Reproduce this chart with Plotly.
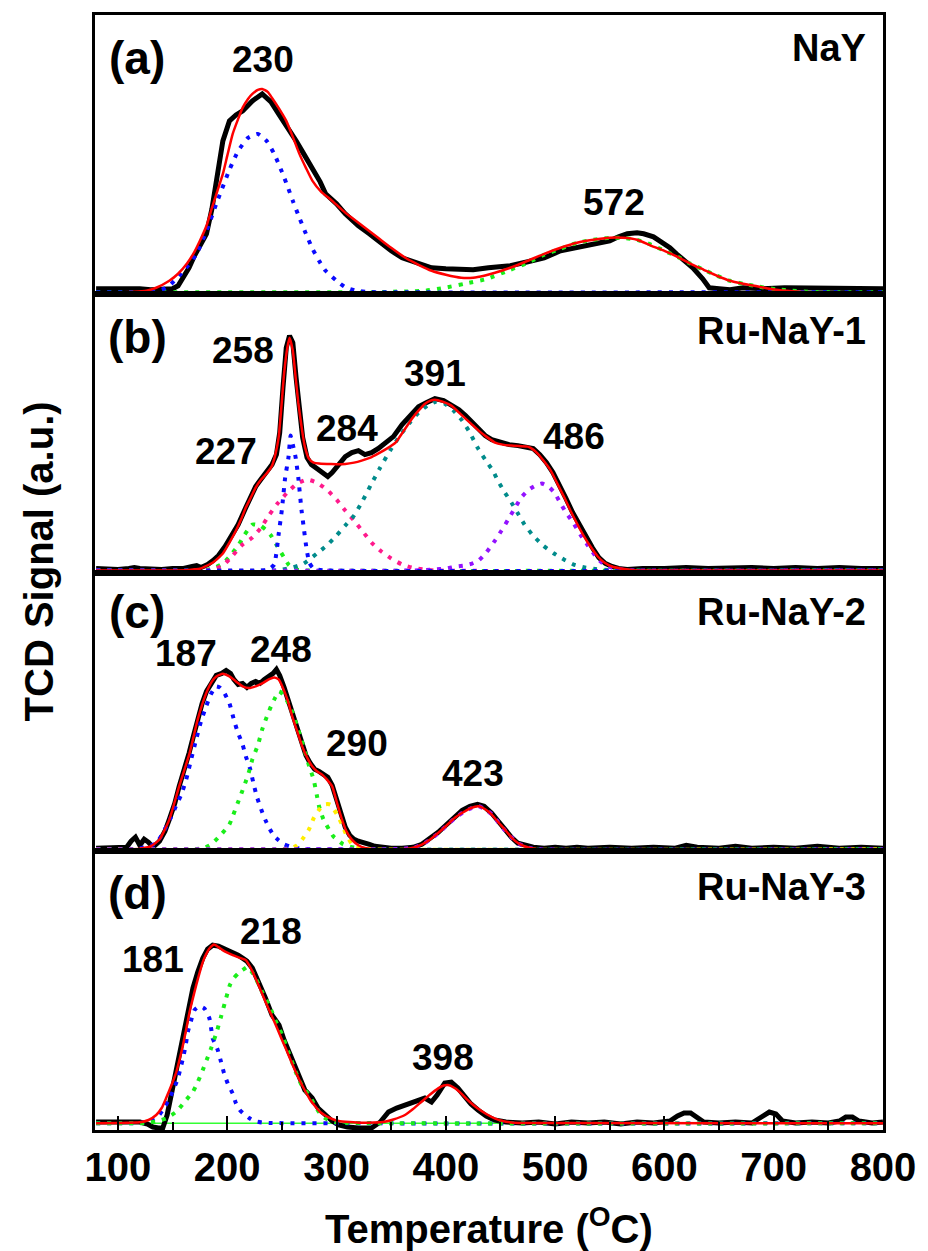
import plotly.graph_objects as go
from plotly.subplots import make_subplots

# ---------------- data (temperature in degC, signal in arbitrary units) ----------------
# Panel (a) NaY
a_black_x = [80, 90, 100, 110, 120, 130, 140, 150, 155, 160, 165, 170, 175, 181, 186, 190, 196, 202, 208, 214, 223, 232, 240, 247, 255, 263, 270, 278, 285, 290, 300, 308, 320, 330, 338, 350, 360, 369, 380, 387, 400, 414, 425, 439, 450, 459, 475, 490, 505, 520, 535, 550, 558, 566, 575, 581, 590, 596, 605, 611, 620, 626, 635, 641, 650, 660, 672, 690, 710, 732, 750, 770, 793, 800]
a_black_y = [5, 5, 6, 5, 5, 4, 4, 5, 8, 16, 26, 38, 48, 60, 85, 110, 153, 173, 179, 183, 193, 200, 192, 180, 167, 153, 140, 126, 112, 100, 90, 80, 68, 60, 53, 43, 36, 33, 29, 26, 25, 24, 24, 26, 27, 28, 32, 36, 43, 46, 49, 53, 57, 60, 61, 60, 57, 53, 46, 40, 31, 26, 15, 6, 5, 4, 6, 5, 6, 6, 5, 6, 5, 5]
a_fit_x = [80, 100, 115, 126, 135, 147, 155, 163, 170, 175, 181, 186, 191, 196, 200, 205, 210, 214, 219, 223, 228, 232, 237, 241, 247, 254, 260, 266, 272, 278, 286, 296, 305, 314, 326, 338, 350, 363, 375, 387, 400, 414, 425, 435, 445, 459, 475, 490, 505, 520, 535, 550, 562, 575, 588, 600, 612, 624, 636, 648, 660, 672, 687, 702, 717, 732, 760, 800]
a_fit_y = [1.3, 1.5, 2, 3, 6, 13, 20, 30, 42, 53, 68, 86, 103, 120, 138, 160, 175, 186, 195, 200, 204, 205, 202, 196, 186, 173, 157, 140, 126, 113, 102, 93, 84, 76, 66, 56, 46, 36, 29, 23, 19, 16, 16, 18, 21, 26, 33, 40, 46, 51, 54, 56, 56, 54, 48, 43, 37, 30, 24, 18, 13, 10, 7, 4, 2.5, 1.5, 1.3, 1.3]
a_p1_x = [80, 120, 130, 140, 147, 156, 164, 172, 181, 191, 202, 210, 219, 228, 236, 243, 250, 255, 260, 266, 272, 278, 284, 290, 300, 308, 318, 330, 340, 800]
a_p1_y = [1.5, 1.5, 2, 4, 8, 18, 28, 40, 63, 93, 124, 143, 156, 160, 153, 140, 122, 108, 93, 76, 60, 45, 33, 23, 13, 6.5, 3, 1.8, 1.5, 1.5]
a_p2_x = [80, 330, 350, 370, 381, 399, 417, 438, 459, 475, 490, 505, 520, 535, 550, 562, 575, 588, 600, 612, 624, 636, 648, 660, 672, 687, 702, 717, 732, 760, 800]
a_p2_y = [1.5, 1.5, 2, 2.5, 3, 6, 10, 15, 24, 31, 39, 45, 51, 54, 56, 56, 54, 49, 43, 37, 30, 24, 18, 13, 10, 7, 4.5, 3, 2, 1.5, 1.5]

# Panel (b) Ru-NaY-1
b_black_x = [80, 90, 100, 110, 115, 120, 130, 140, 150, 160, 168, 172, 176, 182, 187, 192, 198, 204, 210, 217, 222, 226, 230, 236, 241, 245, 248, 251, 254, 257, 260, 263, 266, 269, 273, 277, 282, 287, 292, 296, 302, 308, 314, 320, 326, 332, 338, 345, 352, 360, 368, 375, 382, 390, 398, 405, 412, 418, 424, 430, 436, 442, 450, 458, 466, 474, 480, 486, 492, 498, 504, 510, 516, 522, 528, 534, 540, 546, 552, 558, 566, 580, 600, 620, 640, 660, 680, 700, 720, 740, 760, 780, 800]
b_black_y = [4, 3, 3, 4, 5, 4, 3, 3, 4, 4, 6, 7, 5, 8, 12, 17, 26, 36, 48, 65, 78, 86, 92, 100, 108, 118, 140, 185, 225, 237, 230, 195, 160, 135, 115, 108, 104, 100, 96, 100, 108, 116, 120, 122, 118, 120, 124, 130, 136, 148, 158, 166, 170, 174, 172, 168, 163, 157, 150, 143, 137, 133, 130, 128, 127, 126, 124, 118, 110, 100, 88, 74, 60, 48, 36, 25, 15, 9, 6, 4, 3, 4, 4, 5, 4, 5, 5, 4, 5, 4, 5, 4, 4]
b_fit_x = [80, 100, 150, 165, 175, 187, 196, 202, 208, 213, 217, 222, 226, 231, 236, 241, 244, 247, 250, 252, 255, 257, 260, 262.6, 265, 268.5, 271, 274.7, 279, 284, 295, 308, 316, 323, 331, 338, 346, 354, 361, 369, 375, 381, 386, 390, 397, 405, 414, 423, 430, 437, 445, 452, 460, 467, 475, 480, 484, 490, 496, 502, 508, 514, 520, 526, 533, 539, 545, 552, 560, 570, 580, 800]
b_fit_y = [2, 2, 2, 2.5, 3.7, 10, 19, 30, 42, 54, 65, 76, 85, 93, 99, 107, 118, 135, 172, 199, 225, 235, 222, 195, 170, 142, 126, 114, 110, 109, 108.5, 108.7, 110, 112, 115, 119, 124, 130, 141, 154, 162, 169, 172, 173, 171, 167, 158, 149, 142, 136, 130, 128, 127, 126.5, 126, 123, 119, 111, 102, 89, 76, 62, 49, 37, 25, 16, 10, 6, 4, 2.5, 2, 2]
b_p1_x = [80, 175, 185, 196, 203, 210, 216, 223, 230, 235, 240, 246, 252, 256, 260, 265, 270, 800]
b_p1_y = [2, 2, 3.5, 9, 17, 27, 38, 48, 47, 43, 37, 26, 15, 8, 4, 2.5, 2, 2]
b_p2_x = [80, 230, 238, 243, 247, 250, 253, 256, 258, 260, 262.6, 265, 268, 270, 272, 275, 278, 282, 290, 800]
b_p2_y = [2, 2, 3, 8, 38, 63, 95, 115, 137, 128, 115, 95, 62, 45, 28, 10, 5, 3, 2, 2]
b_p3_x = [80, 180, 188, 196, 205, 214, 223, 231, 238, 246, 255, 264, 273, 282, 291, 300, 308, 316, 324, 332, 341, 350, 360, 369, 380, 390, 800]
b_p3_y = [2, 2, 3.5, 7, 17, 28, 35, 45, 57, 69, 80, 89, 93, 90, 83, 73, 62, 52, 41, 30, 21, 14, 8, 5, 3, 2, 2]
b_p4_x = [80, 240, 250, 260, 270, 282, 291, 300, 308, 316, 324, 332, 340, 349, 358, 367, 375, 383, 391, 399, 407, 415, 422, 429, 436, 443, 448, 454, 460, 466, 472, 479, 489, 499, 508, 517, 527, 537, 550, 560, 800]
b_p4_y = [2, 2, 3, 5, 9, 19, 27, 37, 47, 57, 72, 89, 105, 122, 137, 150, 160, 167, 171, 169, 162, 152, 140, 125, 113, 102, 91, 80, 70, 59, 48, 38, 27, 19, 13, 8, 5, 3.5, 2.5, 2, 2]
b_p5_x = [80, 370, 390, 400, 410, 417, 424, 430, 437, 445, 451, 457, 463, 469, 476, 482, 488, 495, 500, 504, 510, 517, 523, 530, 538, 546, 555, 565, 575, 800]
b_p5_y = [2, 2, 3, 4, 6, 7, 9, 12, 20, 32, 42, 53, 64, 75, 83, 87, 89, 85, 79, 71, 60, 49, 38, 27, 15, 7, 4, 2.5, 2, 2]

# Panel (c) Ru-NaY-2
c_black_x = [80, 90, 100, 108, 112, 116, 120, 124, 128, 132, 138, 143, 147, 152, 156, 161, 165, 169, 173, 177, 181, 186, 190, 195, 199, 203, 206, 210, 214, 218, 222, 226, 230, 234, 238, 242, 245, 248, 252, 256, 260, 264, 268, 272, 276, 280, 284, 288, 292, 296, 300, 304, 308, 312, 316, 320, 325, 330, 335, 340, 350, 360, 370, 378, 385, 393, 400, 408, 415, 422, 429, 435, 442, 448, 454, 460, 466, 472, 480, 490, 500, 510, 520, 530, 550, 570, 590, 610, 620, 630, 650, 665, 680, 700, 720, 740, 760, 780, 800]
c_black_y = [3, 3, 3, 4, 10, 14, 6, 12, 9, 4, 10, 20, 32, 48, 65, 82, 98, 115, 132, 148, 160, 170, 176, 178, 181, 178, 172, 167, 168, 164, 168, 170, 168, 172, 175, 178, 182, 176, 164, 150, 135, 120, 106, 96, 88, 82, 80, 77, 74, 66, 52, 36, 24, 16, 12, 10, 9, 7, 5, 4, 3, 3, 4, 7, 12, 19, 26, 34, 41, 45, 47, 45, 38, 30, 22, 14, 8, 6, 4, 3, 4, 3, 4, 3, 4, 3, 4, 3, 6, 4, 3, 5, 3, 4, 3, 5, 3, 4, 3]
c_fit_x = [80, 110, 120, 130, 138, 147, 156, 165.5, 173, 180.7, 186, 190, 196, 202, 208, 214, 220, 226, 232, 238, 243, 247, 250.4, 255, 259.5, 264, 268.6, 273, 277.7, 282, 286.8, 291, 296, 300, 305, 309, 314, 320, 326, 335, 360, 370, 378, 386, 393, 400, 408, 416, 423, 430, 436, 442, 448, 454, 460, 466, 472, 478, 484, 800]
c_fit_y = [2, 2, 2.5, 5, 11.7, 31.7, 65, 98, 132, 158, 170, 175, 177.7, 175, 170, 165, 163.3, 165, 168, 172, 174, 172, 165, 152, 135, 120, 105, 94, 85, 80, 76.7, 72, 65, 50, 31.7, 20, 11.7, 6, 3.3, 2, 2, 3.5, 6.7, 12, 18.3, 25, 33.3, 39, 43.3, 45, 42, 36.7, 29, 21.7, 14, 8.3, 5, 3, 2, 2]
c_p1_x = [80, 110, 120, 128, 135, 142, 148, 153, 158, 162.5, 167, 171.6, 176, 180.7, 185, 189.8, 193, 196.5, 202, 206.5, 210, 214, 217, 220.8, 224, 227, 231, 235, 239, 243, 247, 252, 257, 265, 275, 800]
c_p1_y = [2, 2, 3, 5, 8, 20, 33, 45, 57, 72, 92, 112, 130, 145, 157, 165, 164, 160, 148, 130, 118, 107, 95, 83, 68, 55, 42, 31, 22, 15, 11, 7, 5, 3, 2, 2]
c_p2_x = [80, 170, 178, 185, 193, 201.9, 205, 209.5, 213, 217, 220, 223, 228, 232, 236, 240, 244, 247.4, 251, 255, 260, 264, 268, 271.6, 275, 279, 282, 284, 288, 293, 297, 300.5, 306, 311, 320, 330, 800]
c_p2_y = [2, 2, 3, 6.7, 15, 26.7, 35, 48, 58, 70, 80, 92, 106, 122, 134, 145, 154, 160, 157, 150, 138, 125, 111, 98, 85, 72, 56, 45, 32, 22, 15, 11.7, 7, 5, 3, 2, 2]
c_p3_x = [80, 250, 258, 264, 268.6, 274.7, 279.2, 285.3, 290, 294.4, 300.5, 305, 309.6, 315.7, 322, 330, 800]
c_p3_y = [2, 2, 3, 6, 11.7, 21.7, 33.3, 43.3, 47, 46.7, 36.7, 26.7, 15, 5, 3, 2, 2]
c_p4_x = [80, 340, 360, 370, 378, 386, 393, 400, 408, 416, 423, 430, 436, 442, 448, 454, 460, 466, 472, 478, 484, 800]
c_p4_y = [2, 2, 2.5, 3.5, 6.5, 12, 18, 25, 33, 39, 43, 45, 42, 37, 29, 21, 14, 8, 5, 3, 2, 2]

# Panel (d) Ru-NaY-3
d_black_x = [80, 90, 100, 110, 120, 127, 132, 137, 141, 145, 150.3, 155, 159.5, 164, 168.6, 173, 177.6, 182, 186.7, 192, 198.8, 205, 210, 214, 218, 223, 229, 235, 241, 247.4, 252, 256.5, 261, 265.6, 271, 277.7, 283, 290, 296, 302, 310, 320, 332, 340, 347.5, 355, 362.6, 370, 376, 380.8, 386.9, 392, 399, 405, 411, 417, 423, 429.4, 437, 444.6, 455, 470, 485, 500, 515, 530, 545, 560, 575, 590, 605, 612, 618, 624, 630, 636, 650, 665, 680, 690, 696, 702, 708, 720, 735, 750, 760, 766, 772, 778, 790, 800]
d_black_y = [8, 8, 9, 8, 8, 6, 3, 2, 2, 15, 45, 70, 95, 120, 142, 158, 172, 181, 185, 184, 181, 178, 175, 172, 169, 162, 148, 132, 115, 105, 90, 78, 65, 52, 40, 32, 22, 15, 9, 5, 3, 2, 2, 8, 18, 22, 25, 28, 31, 32, 28, 35, 47, 48, 42, 33, 26, 20, 14, 10, 8, 7, 8, 6, 8, 7, 8, 6, 8, 7, 9, 14, 17, 17, 13, 8, 7, 8, 7, 14, 18, 16, 9, 7, 8, 7, 9, 13, 13, 9, 7, 8]
d_fit_x = [80, 100, 120, 128, 135, 140, 144, 149, 153.4, 156.5, 159.5, 162.5, 165.5, 168.6, 171.6, 174.6, 177.6, 180.7, 183.7, 188, 192, 195.8, 200, 205, 211, 217, 221, 226, 230.6, 235, 240, 244.4, 249, 253.5, 258, 262.6, 267, 271.7, 276, 280.8, 285, 290, 296, 302, 312, 323, 334, 344, 352, 362.6, 370, 377.8, 385, 393, 398, 402, 408, 414, 421, 429, 437, 444.6, 452, 460, 470, 800]
d_fit_y = [6.7, 7, 7.7, 10, 15, 22, 31.7, 45, 58, 71, 85, 101, 118, 132, 145, 157, 168, 176, 181.7, 185.7, 183, 180, 177.5, 175, 172.5, 170, 163, 151.7, 140, 128.3, 116, 105, 93, 81.7, 70, 58.3, 48, 38.3, 30, 23.3, 18, 14.3, 11, 9, 8, 7.3, 7.5, 8.3, 10.5, 15, 21, 28.3, 35, 41.7, 44.5, 45, 42, 36.7, 29, 21.7, 16, 11.7, 9, 7.5, 7, 6.7]
d_p1_x = [80, 120, 128, 135.2, 141, 147.3, 151, 154.9, 157, 159.5, 162, 164, 167, 170, 174.5, 179.1, 181.5, 183.7, 185.5, 186.7, 189, 191.3, 194.3, 197, 200.4, 204.9, 208, 211.5, 215.6, 220, 224.7, 232, 240, 800]
d_p1_y = [6.7, 7, 9, 11.7, 20, 31.7, 41, 51.7, 61, 71.7, 85, 98.3, 110, 120, 124, 121.7, 117, 111.7, 100, 91.7, 86, 80, 68.3, 57, 46.7, 36.7, 26.7, 20, 15.7, 12, 9, 7.5, 7, 6.7]
d_p2_x = [80, 125, 135, 144.3, 153.4, 161, 168.6, 173, 177.6, 181.5, 185.2, 190, 194.3, 198, 202.4, 206, 210, 214, 218.6, 222, 226.1, 232, 238.3, 244, 250.4, 256, 262.6, 268, 274.7, 280, 284, 289.9, 295, 299, 310, 800]
d_p2_y = [6.7, 7, 8.5, 11.7, 18.3, 28.3, 38.3, 48, 60, 71, 81.7, 97, 113.3, 128, 145, 152, 156.7, 160, 163.3, 159, 151.7, 138, 125, 110, 95, 78, 58.3, 45, 35, 25, 18, 11.7, 9, 7.7, 7, 6.7]
d_base_x = [80, 800]
d_base_y = [6.7, 6.7]

x_tick_values = [100, 200, 300, 400, 500, 600, 700, 800]
panel_letters = ["(a)", "(b)", "(c)", "(d)"]
sample_names = ["NaY", "Ru-NaY-1", "Ru-NaY-2", "Ru-NaY-3"]
peak_labels = [
    [("230", 232.8, 234), ("572", 554, 91)],
    [("258", 214.6, 222), ("227", 199.2, 121), ("284", 309.3, 144), ("391", 390.3, 199), ("486", 517.7, 136)],
    [("187", 161.9, 198), ("248", 249.2, 202), ("290", 318.4, 108), ("423", 424.8, 78)],
    [("181", 131.8, 171), ("218", 240.1, 199), ("398", 397.5, 73)],
]

# ---------------- figure ----------------
FONT = "Liberation Sans, Arial, sans-serif"
BLUE = "#0a0aff"
GREEN = "#1aee1a"
PINK = "#ff1a8c"
TEAL = "#008b8b"
PURPLE = "#9312ff"
YELLOW = "#ffee00"
RED = "#ff0000"
DOT = "4px,7px"

fig = make_subplots(rows=4, cols=1, shared_xaxes=True, vertical_spacing=0)


def add(row, x, y, color, width, dash=None, spline=True):
    fig.add_trace(
        go.Scatter(
            x=x, y=y, mode="lines",
            line=dict(color=color, width=width, dash=dash,
                      shape="spline" if spline else "linear", smoothing=0.5),
            hoverinfo="skip", showlegend=False,
        ),
        row=row, col=1,
    )


# (a)
add(1, a_black_x, a_black_y, "black", 5, spline=False)
add(1, a_p2_x, a_p2_y, GREEN, 4, DOT)
add(1, a_p1_x, a_p1_y, BLUE, 4, DOT)
add(1, a_fit_x, a_fit_y, RED, 2.5)
# (b)
add(2, b_black_x, b_black_y, "black", 5, spline=False)
add(2, b_p1_x, b_p1_y, GREEN, 4, DOT)
add(2, b_p3_x, b_p3_y, PINK, 4, DOT)
add(2, b_p4_x, b_p4_y, TEAL, 4, DOT)
add(2, b_p5_x, b_p5_y, PURPLE, 4, DOT)
add(2, b_p2_x, b_p2_y, BLUE, 4, DOT)
add(2, b_fit_x, b_fit_y, RED, 2.5)
# (c)
add(3, c_black_x, c_black_y, "black", 5, spline=False)
add(3, c_p1_x, c_p1_y, BLUE, 4, DOT)
add(3, c_p2_x, c_p2_y, GREEN, 4, DOT)
add(3, c_p3_x, c_p3_y, YELLOW, 4, DOT)
add(3, c_p4_x, c_p4_y, PURPLE, 4, DOT)
add(3, c_fit_x, c_fit_y, RED, 2.5)
# (d)
add(4, d_base_x, d_base_y, "#33ff33", 1.5, spline=False)
add(4, d_black_x, d_black_y, "black", 5, spline=False)
add(4, d_p1_x, d_p1_y, BLUE, 4, DOT)
add(4, d_p2_x, d_p2_y, GREEN, 4, DOT)
add(4, d_fit_x, d_fit_y, RED, 2.5)

# axes
for r in range(1, 5):
    fig.update_yaxes(range=[0, 279], showticklabels=False, ticks="", showgrid=False,
                     zeroline=False, showline=True, mirror=True, linecolor="black",
                     linewidth=3, row=r, col=1)
    fig.update_xaxes(range=[79, 800], showgrid=False, zeroline=False, showline=True,
                     mirror=True, linecolor="black", linewidth=3, row=r, col=1,
                     ticks="" if r < 4 else "inside")

fig.update_xaxes(row=4, col=1, tickvals=x_tick_values, ticklen=14, tickwidth=2,
                 tickcolor="black",
                 minor=dict(ticks="inside", ticklen=8, tickwidth=2, tickcolor="black", dtick=50, tick0=0),
                 tickfont=dict(family=FONT, size=40, color="black", weight="bold"),
                 ticklabelstandoff=0)

annotations = []
for i in range(4):
    r = i + 1
    xr = "x" if r == 1 else f"x{r}"
    yr = "y" if r == 1 else f"y{r}"
    letter_y = [0.846, 0.846, 0.86, 0.85][i]
    name_y = [0.882, 0.867, 0.86, 0.871][i]
    annotations.append(dict(text=panel_letters[i], xref=f"{xr} domain", yref=f"{yr} domain",
                            x=0.0536, y=letter_y, xanchor="center", yanchor="middle",
                            showarrow=False,
                            font=dict(family=FONT, size=46, color="black", weight="bold")))
    annotations.append(dict(text=sample_names[i], xref=f"{xr} domain", yref=f"{yr} domain",
                            x=0.981, y=name_y, xanchor="right", yanchor="middle",
                            showarrow=False,
                            font=dict(family=FONT, size=38, color="black", weight="bold")))
    for (txt, px, py) in peak_labels[i]:
        annotations.append(dict(text=txt, xref=xr, yref=yr, x=px, y=py,
                                xanchor="center", yanchor="middle", showarrow=False,
                                font=dict(family=FONT, size=37, color="black", weight="bold")))

annotations.append(dict(text="TCD Signal (a.u.)", xref="paper", yref="paper",
                        x=-0.071, y=0.51, xanchor="center", yanchor="middle",
                        textangle=-90, showarrow=False,
                        font=dict(family=FONT, size=40, color="black", weight="bold")))
annotations.append(dict(text="Temperature (<sup>O</sup>C)", xref="paper", yref="paper",
                        x=0.5, y=-0.086, xanchor="center", yanchor="middle",
                        showarrow=False,
                        font=dict(family=FONT, size=40, color="black", weight="bold")))

fig.update_layout(
    width=928, height=1251,
    margin=dict(l=95, r=40, t=14, b=121),
    paper_bgcolor="white", plot_bgcolor="white",
    annotations=annotations,
    showlegend=False,
)

fig.write_html("out.html")
